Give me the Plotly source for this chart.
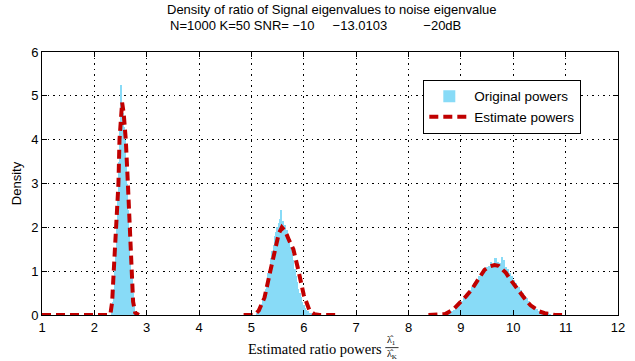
import plotly.graph_objects as go

# ---------------- data ----------------
# histogram groups: first bin centre, bin width, bar heights
p1_start, p1_width = 2.33, 0.02
p1_heights = [0.1, 0.3, 0.6, 1.0, 1.5, 2.1, 2.8, 3.5, 4.2, 5.25, 4.8, 4.6, 4.3,
              4.0, 3.5, 3.0, 2.4, 1.9, 1.3, 0.9, 0.5, 0.25, 0.1]

p2_start, p2_width = 5.10, 0.025
p2_heights = [0.05, 0.08, 0.12, 0.18, 0.25, 0.35, 0.45, 0.6, 0.75, 0.95, 1.1, 1.3,
              1.45, 1.6, 1.8, 1.9, 2.0, 2.1, 2.2, 2.4, 2.15, 2.0, 2.05, 1.95, 1.85,
              1.7, 1.55, 1.4, 1.25, 1.05, 0.9, 0.75, 0.6, 0.5, 0.4, 0.3, 0.22, 0.16,
              0.12, 0.08, 0.05, 0.04, 0.03, 0.02]

p3_start, p3_width = 8.78, 0.04
p3_heights = [0.05, 0.08, 0.12, 0.18, 0.22, 0.28, 0.32, 0.38, 0.45, 0.52, 0.58, 0.65,
              0.72, 0.8, 0.9, 0.95, 1.0, 1.05, 1.1, 1.12, 1.2, 1.15, 1.3, 1.22, 1.18,
              1.32, 1.25, 1.1, 1.05, 0.95, 0.88, 0.8, 0.72, 0.65, 0.58, 0.5, 0.44,
              0.38, 0.32, 0.26, 0.22, 0.18, 0.14, 0.1, 0.08, 0.06, 0.04, 0.03, 0.02]

# estimated density curves
est1_x = [1.0, 2.28, 2.31, 2.34, 2.37, 2.42, 2.46, 2.48, 2.51, 2.53, 2.56, 2.60,
          2.64, 2.67, 2.70, 2.74, 2.78, 2.85]
est1_y = [0, 0, 0.05, 0.3, 1.0, 2.0, 3.0, 4.0, 4.7, 4.85, 4.6, 4.0,
          3.0, 2.0, 1.0, 0.3, 0.05, 0]

est2_x = [4.85, 5.05, 5.14, 5.25, 5.36, 5.45, 5.52, 5.58, 5.65, 5.72, 5.80, 5.90,
          6.00, 6.11, 6.20, 6.30, 6.65]
est2_y = [0, 0, 0.1, 0.4, 1.0, 1.5, 1.85, 2.0, 1.9, 1.7, 1.5, 1.0,
          0.45, 0.1, 0.02, 0, 0]

est3_x = [8.38, 8.70, 8.85, 8.98, 9.10, 9.20, 9.33, 9.45, 9.55, 9.64, 9.72, 9.77,
          9.86, 9.95, 10.02, 10.13, 10.24, 10.33, 10.40, 10.50, 10.60, 10.70, 10.80, 11.0]
est3_y = [0, 0.02, 0.12, 0.27, 0.43, 0.57, 0.8, 1.03, 1.11, 1.14, 1.12, 1.07,
          0.96, 0.8, 0.68, 0.5, 0.34, 0.22, 0.16, 0.08, 0.04, 0.01, 0, 0]

x_ticks = list(range(1, 13))
y_ticks = list(range(0, 7))

title_line1 = "Density of ratio of Signal eigenvalues to noise eigenvalue"
title_line2 = ("N=1000 K=50 SNR= \u221210\u00a0\u00a0\u00a0\u00a0 \u221213.0103"
               "\u00a0\u00a0\u00a0\u00a0\u00a0\u00a0\u00a0\u00a0\u00a0 \u221220dB")

# ---------------- build bars ----------------
bar_x, bar_y, bar_w = [], [], []
for start, width, heights in [(p1_start, p1_width, p1_heights),
                              (p2_start, p2_width, p2_heights),
                              (p3_start, p3_width, p3_heights)]:
    for i, h in enumerate(heights):
        bar_x.append(start + i * width)
        bar_y.append(h)
        bar_w.append(width)

est_x = est1_x + [None] + est2_x + [None] + est3_x
est_y = est1_y + [None] + est2_y + [None] + est3_y

BLUE = "#88dbf7"
RED = "#c00000"
FONT = "Liberation Sans, Arial, sans-serif"
SERIF = "Liberation Serif, DejaVu Serif, serif"

fig = go.Figure()
fig.add_trace(go.Bar(
    x=bar_x, y=bar_y, width=bar_w, name="Original powers",
    marker=dict(color=BLUE, line=dict(color="white", width=0)),
))
fig.add_trace(go.Scatter(
    x=est_x, y=est_y, mode="lines", name="Estimate powers",
    line=dict(color=RED, width=4, dash="9px,5px"), connectgaps=False,
))

axis_common = dict(
    showline=True, linecolor="black", linewidth=1, mirror="allticks",
    ticks="inside", ticklen=5, tickcolor="black",
    showgrid=True, gridcolor="black", griddash="1.5px,4px", gridwidth=1,
    zeroline=False, tickfont=dict(family=FONT, size=13, color="black"),
)

fig.update_xaxes(range=[1, 12], tickvals=x_ticks, **axis_common)
fig.update_yaxes(range=[0, 6], tickvals=y_ticks,
                 title=dict(text="Density", font=dict(family=FONT, size=13, color="black"),
                            standoff=6),
                 **axis_common)

fig.update_layout(
    width=635, height=361,
    margin=dict(l=42, r=10, t=52, b=46),
    plot_bgcolor="white", paper_bgcolor="white",
    bargap=0,
    showlegend=True,
    legend=dict(x=0.662, y=0.894, xanchor="left", yanchor="top",
                bgcolor="white", bordercolor="black", borderwidth=1,
                font=dict(family=FONT, size=13.5, color="black"),
                itemwidth=40, tracegroupgap=0),
    font=dict(family=FONT, color="black"),
)

# two-line title
fig.add_annotation(text=title_line1, xref="paper", yref="paper",
                   x=0.503, y=1.160, xanchor="center", yanchor="middle",
                   showarrow=False, font=dict(family=FONT, size=13, color="black"))
fig.add_annotation(text=title_line2, xref="paper", yref="paper",
                   x=0.474, y=1.099, xanchor="center", yanchor="middle",
                   showarrow=False, font=dict(family=FONT, size=13, color="black"))

# x axis label with a stacked fraction (serif, like the LaTeX label)
fig.add_annotation(text="Estimated ratio powers", xref="paper", yref="paper",
                   x=0.593, y=-0.13, xanchor="right", yanchor="middle",
                   showarrow=False, font=dict(family=SERIF, size=14.5, color="black"))
fig.add_annotation(text="\u03bb\u0302<sub>1</sub>", xref="paper", yref="paper",
                   x=0.607, y=-0.097, xanchor="center", yanchor="middle",
                   showarrow=False, font=dict(family=SERIF, size=10, color="black"))
fig.add_annotation(text="\u03bb\u0302<sub>K</sub>", xref="paper", yref="paper",
                   x=0.607, y=-0.152, xanchor="center", yanchor="middle",
                   showarrow=False, font=dict(family=SERIF, size=10, color="black"))
fig.add_shape(type="line", xref="paper", yref="paper",
              x0=0.596, x1=0.619, y0=-0.124, y1=-0.124,
              line=dict(color="black", width=0.8))

fig.write_html("out.html")
